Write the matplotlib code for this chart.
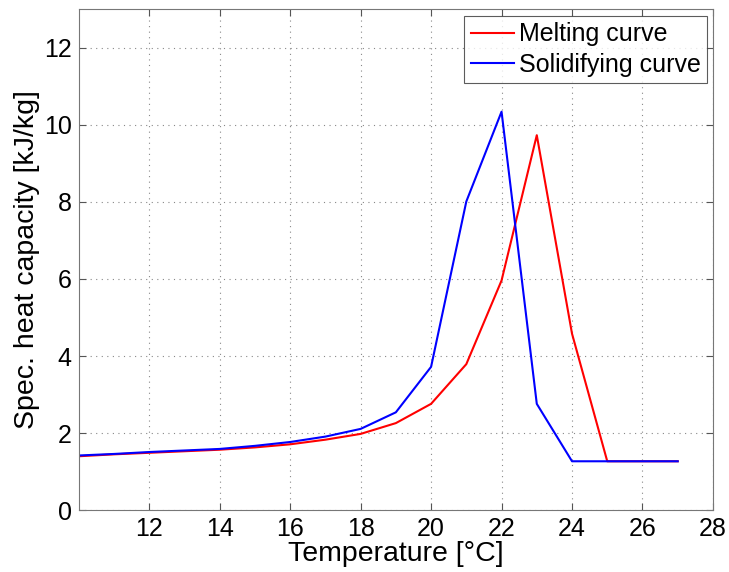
import matplotlib
matplotlib.use('agg')
import matplotlib.pyplot as plt

temp = [10, 11, 12, 13, 14, 15, 16, 17, 18, 19, 20, 21, 22, 23, 24, 25, 26, 27]
melting = [1.40, 1.45, 1.49, 1.53, 1.57, 1.63, 1.71, 1.83, 1.98, 2.26, 2.76, 3.79, 5.96, 9.73, 4.58, 1.27, 1.27, 1.27]
solidifying = [1.42, 1.46, 1.51, 1.55, 1.59, 1.67, 1.77, 1.91, 2.11, 2.54, 3.72, 8.01, 10.34, 2.76, 1.27, 1.27, 1.27, 1.27]
xticks = [12, 14, 16, 18, 20, 22, 24, 26, 28]
yticks = [0, 2, 4, 6, 8, 10, 12]

plt.rcParams['font.family'] = ['Liberation Sans', 'DejaVu Sans']

fig = plt.figure(figsize=(7.29, 5.72), dpi=100)
ax = fig.add_axes([0.108, 0.108, 0.870, 0.876])

ax.plot(temp, melting, color='red', lw=1.5, label='Melting curve')
ax.plot(temp, solidifying, color='blue', lw=1.5, label='Solidifying curve')

ax.set_xlim(10, 28)
ax.set_ylim(0, 13)
ax.set_xticks(xticks)
ax.set_yticks(yticks)
ax.tick_params(direction='in', labelsize=18, color='#555555', length=5,
               top=True, right=True, pad=5)
ax.grid(True, linestyle=(0, (1, 4)), color='#888888', lw=0.8)
for s in ax.spines.values():
    s.set_color('#777777')

ax.set_xlabel('Temperature [°C]', fontsize=20.5, labelpad=0)
ax.set_ylabel('Spec. heat capacity [kJ/kg]', fontsize=20.5, labelpad=3)

# legend sits a few pixels inside the top right corner, like MATLAB does
leg = ax.legend(loc='upper right', fontsize=18, fancybox=False,
                bbox_to_anchor=(0.991, 0.986), borderaxespad=0,
                handlelength=1.72, handletextpad=0.22, borderpad=0.25,
                labelspacing=0.25, handleheight=0.7)
leg.get_frame().set_edgecolor('#333333')
leg.get_frame().set_linewidth(0.8)

fig.savefig('out.png', dpi=100)
